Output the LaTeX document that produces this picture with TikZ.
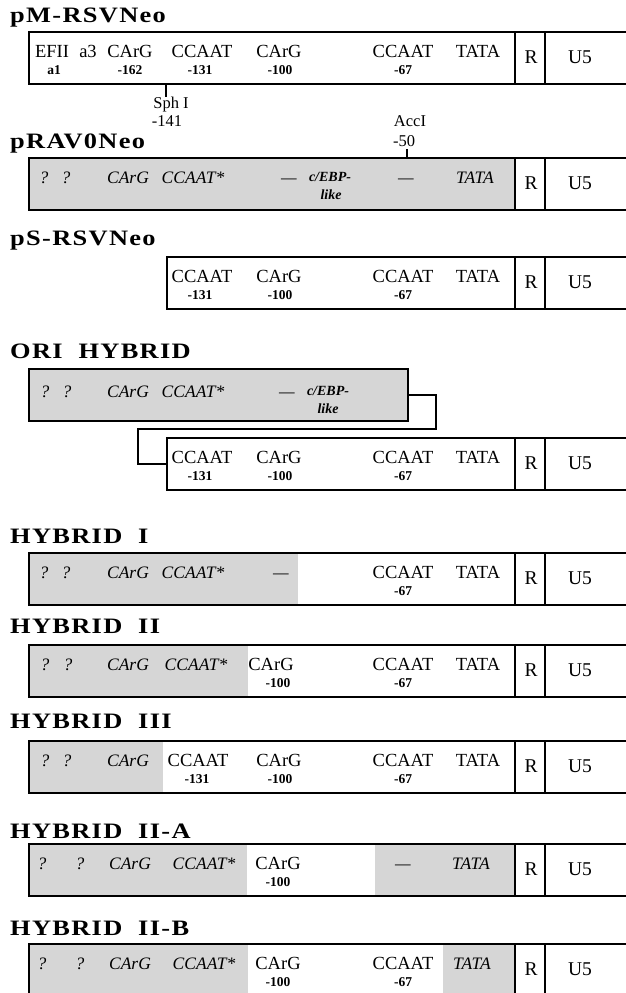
\documentclass[tikz,border=0pt]{standalone}
\usepackage{fontspec}
\setmainfont{Liberation Serif}
\newfontfamily\hdrfont[FakeStretch=1.2,LetterSpace=6]{Liberation Serif}
\usetikzlibrary{calc}
\tikzset{
  cbox/.style={draw,line width=1.8pt,anchor=north west,minimum height=52pt,inner sep=0pt},
  stip/.style={fill=black!16},
  hdr/.style={font=\hdrfont\bfseries\fontsize{22}{24}\selectfont,anchor=base west,inner sep=0pt},
  site/.style={font=\fontsize{18.5}{20}\selectfont,anchor=base,inner sep=0pt},
  sitei/.style={font=\fontsize{17.5}{20}\selectfont\itshape,anchor=base,inner sep=0pt},
  ebp/.style={font=\fontsize{14}{16}\selectfont\bfseries\itshape,anchor=base,inner sep=0pt},
  num/.style={font=\fontsize{13.5}{15}\selectfont\bfseries,anchor=base,inner sep=0pt},
  lbl/.style={font=\fontsize{16.5}{18}\selectfont,anchor=base,inner sep=0pt},
  ltr/.style={font=\fontsize{19.5}{21}\selectfont,anchor=base,inner sep=0pt},
  tick/.style={line width=1.6pt},
  link/.style={line width=1.8pt}
}
\begin{document}
\begin{tikzpicture}[x=1pt,y=-1pt]
\useasboundingbox (0,0) rectangle (625,993);

% shaded (RAV-0 derived) stretches
\fill[stip] (28,157) rectangle (515,209);
\fill[stip] (28,368) rectangle (407,420);
\fill[stip] (28,552) rectangle (298,604);
\fill[stip] (28,644) rectangle (248,696);
\fill[stip] (28,740) rectangle (163,792);
\fill[stip] (28,843) rectangle (247,895);
\fill[stip] (375,843) rectangle (515,895);
\fill[stip] (28,943) rectangle (248,995);
\fill[stip] (443,943) rectangle (515,995);

% construct names
\node[hdr] (tpm) at (10,23) {pM-RSVNeo};
\node[hdr] (trav) at (10,148) {pRAV0Neo};
\node[hdr] (tps) at (10,245) {pS-RSVNeo};
\node[hdr] (tori) at (10,358) {ORI~~HYBRID};
\node[hdr] (th1) at (10,543) {HYBRID~~I};
\node[hdr] (th2) at (10,633) {HYBRID~~II};
\node[hdr] (th3) at (10,728) {HYBRID~~III};
\node[hdr] (th2a) at (10,838) {HYBRID~~II-A};
\node[hdr] (th2b) at (10,935) {HYBRID~~II-B};

% boxes
\node[cbox,minimum width=620pt] (pm) at (28,31) {};
\node[cbox,minimum width=620pt] (rav) at (28,157) {};
\node[cbox,minimum width=482pt] (ps) at (166,256) {};
\node[cbox,minimum width=379pt] (ori1) at (28,368) {};
\node[cbox,minimum width=482pt] (ori2) at (166,437) {};
\node[cbox,minimum width=620pt] (hy1) at (28,552) {};
\node[cbox,minimum width=620pt] (hy2) at (28,644) {};
\node[cbox,minimum width=620pt] (hy3) at (28,740) {};
\node[cbox,minimum width=620pt] (hy2a) at (28,843) {};
\node[cbox,minimum width=620pt] (hy2b) at (28,943) {};

% R and U5 on every LTR
\foreach \t [count=\i] in {31,157,256,437,552,644,740,843,943} {
  \draw[link] (515,\t) -- ++(0,52);
  \draw[link] (545,\t) -- ++(0,52);
  \node[ltr] (r\i) at (531,\t+32) {R};
  \node[ltr] (u\i) at (580,\t+32) {U5};
}

% proximal CCAAT and TATA of RSV
\foreach \t [count=\i] in {31,256,437,552,644,740} {
  \node[site] (cc\i) at (403,\t+26) {CCAAT};
  \node[num] (cn\i) at (403,\t+43) {-67};
  \node[site] (ta\i) at (478,\t+26) {TATA};
}

% pM-RSVNeo
\node[site] (pm1) at (52,57) {EFII};
\node[num] (pm2) at (54,74) {a1};
\node[site] (pm3) at (88,57) {a3};
\node[site] (pm4) at (130,57) {CArG};
\node[num] (pm5) at (130,74) {-162};
\node[site] (pm6) at (202,57) {CCAAT};
\node[num] (pm7) at (200,74) {-131};
\node[site] (pm8) at (279,57) {CArG};
\node[num] (pm9) at (280,74) {-100};
\coordinate (sphcut) at (166,83);
\node[lbl] (sph) at (171,108) {Sph I};
\node[lbl] (sphn) at (167,126) {-141};
\draw[tick] (sphcut) -- (sphcut |- 0,97);

% pRAV0Neo
\node[lbl] (acc) at (410,126) {AccI};
\node[lbl] (accn) at (404,146) {-50};
\coordinate (acccut) at (407,157);
\draw[tick] (acccut) -- (acccut |- 0,149);
\node[sitei] (rv1) at (44,183) {?};
\node[sitei] (rv2) at (66,183) {?};
\node[sitei] (rv3) at (128,183) {CArG};
\node[sitei] (rv4) at (193,183) {CCAAT*};
\node[sitei] (rv5) at (289,183) {—};
\node[ebp] (rv6) at (330,181) {c/EBP-};
\node[ebp] (rv7) at (331,199) {like};
\node[sitei] (rv8) at (406,183) {—};
\node[sitei] (rv9) at (475,183) {TATA};

% pS-RSVNeo
\node[site] (ps1) at (202,282) {CCAAT};
\node[num] (ps2) at (200,299) {-131};
\node[site] (ps3) at (279,282) {CArG};
\node[num] (ps4) at (280,299) {-100};

% ORI HYBRID
\node[sitei] (or1) at (45,397) {?};
\node[sitei] (or2) at (67,397) {?};
\node[sitei] (or3) at (128,397) {CArG};
\node[sitei] (or4) at (193,397) {CCAAT*};
\node[sitei] (or5) at (287,397) {—};
\node[ebp] (or6) at (328,395) {c/EBP-};
\node[ebp] (or7) at (328,413) {like};
\node[site] (or8) at (202,463) {CCAAT};
\node[num] (or9) at (200,480) {-131};
\node[site] (or10) at (279,463) {CArG};
\node[num] (or11) at (280,480) {-100};
\coordinate (orikink) at (138,429);
\draw[link] (ori1.east) -- ++(27,0) |- (orikink) |- (ori2.west);

% HYBRID I
\node[sitei] (ha1) at (44,578) {?};
\node[sitei] (ha2) at (66,578) {?};
\node[sitei] (ha3) at (128,578) {CArG};
\node[sitei] (ha4) at (193,578) {CCAAT*};
\node[sitei] (ha5) at (281,578) {—};

% HYBRID II
\node[sitei] (hb1) at (45,670) {?};
\node[sitei] (hb2) at (68,670) {?};
\node[sitei] (hb3) at (128,670) {CArG};
\node[sitei] (hb4) at (196,670) {CCAAT*};
\node[site] (hb5) at (271,670) {CArG};
\node[num] (hb6) at (278,687) {-100};

% HYBRID III
\node[sitei] (hc1) at (45,766) {?};
\node[sitei] (hc2) at (67,766) {?};
\node[sitei] (hc3) at (128,766) {CArG};
\node[site] (hc4) at (198,766) {CCAAT};
\node[num] (hc5) at (197,783) {-131};
\node[site] (hc6) at (279,766) {CArG};
\node[num] (hc7) at (280,783) {-100};

% HYBRID II-A
\node[sitei] (hd1) at (42,869) {?};
\node[sitei] (hd2) at (80,869) {?};
\node[sitei] (hd3) at (130,869) {CArG};
\node[sitei] (hd4) at (204,869) {CCAAT*};
\node[site] (hd5) at (278,869) {CArG};
\node[num] (hd6) at (278,886) {-100};
\node[sitei] (hd7) at (403,869) {—};
\node[sitei] (hd8) at (471,869) {TATA};

% HYBRID II-B
\node[sitei] (he1) at (42,969) {?};
\node[sitei] (he2) at (80,969) {?};
\node[sitei] (he3) at (130,969) {CArG};
\node[sitei] (he4) at (204,969) {CCAAT*};
\node[site] (he5) at (278,969) {CArG};
\node[num] (he6) at (278,986) {-100};
\node[site] (he7) at (403,969) {CCAAT};
\node[num] (he8) at (403,986) {-67};
\node[sitei] (he9) at (472,969) {TATA};
\end{tikzpicture}
\end{document}
